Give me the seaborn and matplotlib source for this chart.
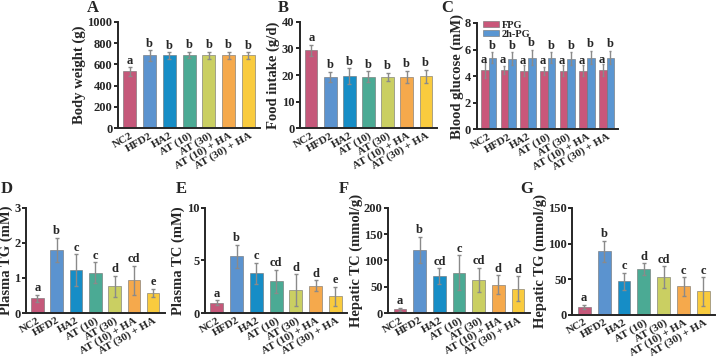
import numpy as np
import pandas as pd
import matplotlib
matplotlib.use("Agg")
import matplotlib.pyplot as plt
import seaborn as sns

groups = ["NC2", "HFD2", "HA2", "AT (10)", "AT (30)", "AT (10) + HA", "AT (30) + HA"]
colors = ["#C5587A", "#5B93CF", "#168DC6", "#4BAA94", "#CACF62", "#F5A94C", "#F9CB3E"]

# panel A - body weight
bw_mean = [535, 685, 685, 688, 685, 685, 685]
bw_sd = [40, 50, 30, 30, 35, 35, 30]
bw_letters = ["a", "b", "b", "b", "b", "b", "b"]

# panel B - food intake
fi_mean = [29.3, 19.3, 19.6, 19.4, 19.3, 19.3, 19.5]
fi_sd = [2.0, 2.0, 3.0, 2.0, 1.5, 2.3, 2.5]
fi_letters = ["a", "b", "b", "b", "b", "b", "b"]

# panel C - blood glucose
fpg_mean = [4.45, 4.45, 4.4, 4.4, 4.4, 4.4, 4.45]
fpg_sd = [0.6, 0.3, 0.4, 0.3, 0.4, 0.4, 0.45]
pg2h_mean = [5.4, 5.3, 5.4, 5.4, 5.3, 5.4, 5.4]
pg2h_sd = [0.4, 0.5, 0.6, 0.4, 0.5, 0.5, 0.5]

# panel D - plasma TG
ptg_mean = [0.42, 1.8, 1.22, 1.15, 0.77, 0.93, 0.57]
ptg_sd = [0.1, 0.35, 0.45, 0.3, 0.3, 0.42, 0.12]
ptg_letters = ["a", "b", "c", "c", "d", "cd", "e"]

# panel E - plasma TC
ptc_mean = [1.0, 5.4, 3.8, 3.0, 2.2, 2.6, 1.6]
ptc_sd = [0.2, 1.1, 1.0, 1.1, 1.5, 0.5, 0.9]
ptc_letters = ["a", "b", "c", "cd", "d", "d", "e"]

# panel F - hepatic TC
htc_mean = [7, 120, 70, 77, 63, 54, 46]
htc_sd = [3, 25, 15, 33, 23, 18, 24]
htc_letters = ["a", "b", "cd", "c", "cd", "d", "d"]

# panel G - hepatic TG
htg_mean = [11, 89, 47, 64, 53, 40, 33]
htg_sd = [3, 15, 12, 8, 15, 13, 20]
htg_letters = ["a", "b", "c", "d", "cd", "c", "c"]

sns.set_style("ticks")
plt.rcParams["font.family"] = ["Liberation Serif", "DejaVu Serif"]
plt.rcParams["font.weight"] = "bold"
plt.rcParams["axes.labelweight"] = "bold"
plt.rcParams["axes.linewidth"] = 1.4

fig = plt.figure(figsize=(7.19, 3.59), dpi=100)
W, H = 719, 359


def style_axis(ax, ylabel, ymax, yticks):
    ax.set_ylim(0, ymax)
    ax.set_yticks(yticks)
    ax.set_xlim(-0.6, 6.6)
    ax.set_xlabel("")
    ax.set_ylabel(ylabel, fontsize=10.5, fontweight="bold", labelpad=1)
    ax.tick_params(axis="y", labelsize=9, width=1.4, length=3, pad=1)
    ax.tick_params(axis="x", labelsize=8, length=0, pad=2)
    ax.set_xticks(range(len(groups)))
    ax.set_xticklabels(groups, rotation=30, ha="right", rotation_mode="anchor", fontweight="bold")
    for lab in ax.get_yticklabels():
        lab.set_fontweight("bold")
    sns.despine(ax=ax)


def panel_label(txt, px, py):
    fig.text(px / W, 1 - py / H, txt, fontsize=12, fontweight="bold", ha="center", va="center")


def bar_panel(rect, means, sds, letters, ylabel, ymax, yticks):
    ax = fig.add_axes(rect)
    df = pd.DataFrame({"group": groups, "value": means})
    sns.barplot(data=df, x="group", y="value", hue="group", palette=colors, saturation=1,
                width=0.65, legend=False, ax=ax, edgecolor="#6f6f6f", linewidth=0.4)
    x = np.arange(len(groups))
    ax.errorbar(x, means, yerr=sds, fmt="none", ecolor="#8a8a8a", elinewidth=1.0,
                capsize=1.2, capthick=1.0)
    for xi, m, s, l in zip(x, means, sds, letters):
        ax.text(xi, m + s + ymax * 0.005, l, ha="center", va="bottom", fontsize=9, fontweight="bold")
    style_axis(ax, ylabel, ymax, yticks)
    return ax


bar_panel([0.164, 0.643, 0.198, 0.296], bw_mean, bw_sd, bw_letters,
          "Body weight (g)", 1000, [0, 200, 400, 600, 800, 1000])
bar_panel([0.417, 0.643, 0.191, 0.296], fi_mean, fi_sd, fi_letters,
          "Food intake (g/d)", 40, [0, 10, 20, 30, 40])

# panel C grouped bars
axc = fig.add_axes([0.663, 0.640, 0.197, 0.296])
dfc = pd.DataFrame({
    "group": groups * 2,
    "value": fpg_mean + pg2h_mean,
    "measure": ["FPG"] * 7 + ["2h-PG"] * 7,
})
sns.barplot(data=dfc, x="group", y="value", hue="measure", palette=["#C9577A", "#5A96D2"],
            saturation=1, width=0.78, ax=axc, edgecolor="#6f6f6f", linewidth=0.4)
x = np.arange(len(groups))
off = 0.78 / 4
axc.errorbar(x - off, fpg_mean, yerr=fpg_sd, fmt="none", ecolor="#8a8a8a", elinewidth=1.0, capsize=1.0)
axc.errorbar(x + off, pg2h_mean, yerr=pg2h_sd, fmt="none", ecolor="#8a8a8a", elinewidth=1.0, capsize=1.0)
for xi, m in zip(x, fpg_mean):
    axc.text(xi - off - 0.06, m + 0.3, "a", ha="center", va="bottom", fontsize=9, fontweight="bold")
for xi, m, s in zip(x, pg2h_mean, pg2h_sd):
    axc.text(xi + off, m + s + 0.05, "b", ha="center", va="bottom", fontsize=9, fontweight="bold")
style_axis(axc, "Blood glucose (mM)", 8, [0, 2, 4, 6, 8])
axc.legend(loc="upper left", bbox_to_anchor=(0.01, 1.07), frameon=False,
           handlelength=1.5, handleheight=0.55, labelspacing=0.0, borderaxespad=0.1,
           handletextpad=0.3, prop={"weight": "bold", "size": 7.5, "family": "Liberation Serif"})

bar_panel([0.036, 0.128, 0.193, 0.293], ptg_mean, ptg_sd, ptg_letters,
          "Plasma TG (mM)", 3, [0, 1, 2, 3])
bar_panel([0.285, 0.128, 0.198, 0.293], ptc_mean, ptc_sd, ptc_letters,
          "Plasma TC (mM)", 10, [0, 5, 10])
bar_panel([0.540, 0.128, 0.197, 0.293], htc_mean, htc_sd, htc_letters,
          "Hepatic TC (mmol/g)", 200, [0, 50, 100, 150, 200])
bar_panel([0.796, 0.123, 0.199, 0.298], htg_mean, htg_sd, htg_letters,
          "Hepatic TG (mmol/g)", 150, [0, 50, 100, 150])

panel_label("A", 93, 8)
panel_label("B", 283, 8)
panel_label("C", 447, 8)
panel_label("D", 7, 189)
panel_label("E", 181, 189)
panel_label("F", 344, 189)
panel_label("G", 527, 189)

fig.savefig("out.png", dpi=100)
